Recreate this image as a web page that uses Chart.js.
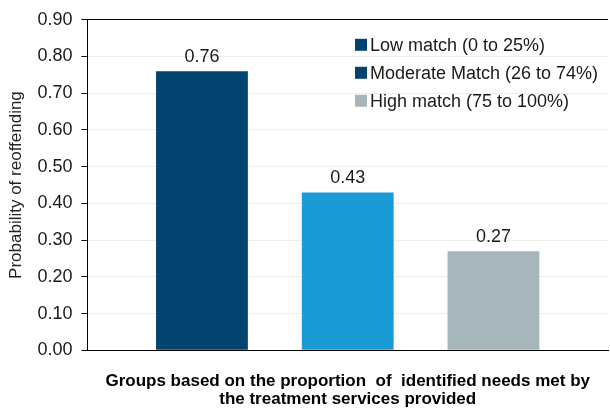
<!DOCTYPE html>
<html>
<head>
<meta charset="utf-8">
<script src="https://cdn.jsdelivr.net/npm/chart.js@4"></script>
<style>
  html, body { margin: 0; padding: 0; background: #fff; }
  #wrap { width: 610px; height: 408px; }
</style>
</head>
<body>
<div id="wrap"><canvas id="myChart" width="610" height="408"></canvas></div>
<script>
// data
const groups = ['Low match (0 to 25%)', 'Moderate Match (26 to 74%)', 'High match (75 to 100%)']
const values = [0.76, 0.43, 0.27]
const barColors = ['#02446f', '#1b9bd6', '#a6b6bb']
// the original legend shows the middle swatch in dark blue
const legendColors = ['#02446f', '#02446f', '#a6b6bb']
const yTicks = [0, 0.1, 0.2, 0.3, 0.4, 0.5, 0.6, 0.7, 0.8, 0.9]

const FONT = "'Liberation Sans', Arial, sans-serif"

// value labels above the bars
const valueLabels = {
    id: 'valueLabels',
    afterDatasetsDraw(chart) {
        const ctx = chart.ctx
        ctx.save()
        ctx.font = '18px ' + FONT
        ctx.fillStyle = '#1a1a1a'
        ctx.textAlign = 'center'
        ctx.textBaseline = 'bottom'
        chart.data.datasets.forEach((ds, i) => {
            chart.getDatasetMeta(i).data.forEach((bar, j) => {
                ctx.fillText(ds.data[j].toFixed(2), bar.x, bar.y - 5)
            })
        })
        ctx.restore()
    }
}

// legend drawn inside the plot, top right
const insideLegend = {
    id: 'insideLegend',
    afterDraw(chart) {
        const ctx = chart.ctx
        const area = chart.chartArea
        const x0 = area.right - 253
        let y = area.top + 25
        ctx.save()
        ctx.font = '18px ' + FONT
        ctx.textBaseline = 'middle'
        chart.data.datasets.forEach((ds, i) => {
            ctx.fillStyle = legendColors[i]
            ctx.fillRect(x0, y - 6, 12, 12)
            ctx.fillStyle = '#1a1a1a'
            ctx.fillText(ds.label, x0 + 15, y + 1)
            y += 28
        })
        ctx.restore()
    }
}

const data = {
    labels: [''],
    datasets: groups.map((g, i) => ({
        label: g,
        data: [values[i]],
        backgroundColor: barColors[i],
        borderWidth: 0
    }))
}

const config = {
    type: 'bar',
    data,
    plugins: [valueLabels, insideLegend],
    options: {
        responsive: false,
        animation: false,
        categoryPercentage: 0.84,
        barPercentage: 0.63,
        layout: { padding: { top: 9, right: 2, left: 6, bottom: 0 } },
        plugins: {
            legend: { display: false },
            tooltip: { enabled: false }
        },
        scales: {
            x: {
                grid: { display: false },
                border: { color: '#000', width: 1 },
                ticks: { display: false },
                title: {
                    display: true,
                    text: ['Groups based on the proportion  of  identified needs met by', 'the treatment services provided'],
                    color: '#000',
                    font: { family: FONT, size: 17, weight: 'bold', lineHeight: 1.05 },
                    padding: { top: 14, bottom: 0 }
                }
            },
            y: {
                min: 0,
                max: 0.9,
                afterBuildTicks: (axis) => { axis.ticks = yTicks.map(v => ({ value: v })) },
                border: { color: '#000', width: 1 },
                grid: {
                    color: (c) => (c.tick && c.tick.value === 0.9 ? '#000' : '#eeeeee'),
                    tickColor: '#000',
                    tickLength: 6
                },
                ticks: {
                    color: '#1a1a1a',
                    font: { family: FONT, size: 18 },
                    padding: 9,
                    callback: (v) => Number(v).toFixed(2)
                },
                title: {
                    display: true,
                    text: 'Probability of reoffending',
                    color: '#222',
                    font: { family: FONT, size: 17 },
                    padding: { top: 0, bottom: 2 }
                }
            }
        }
    }
}

const myChart = new Chart(document.getElementById('myChart'), config)
</script>
</body>
</html>
